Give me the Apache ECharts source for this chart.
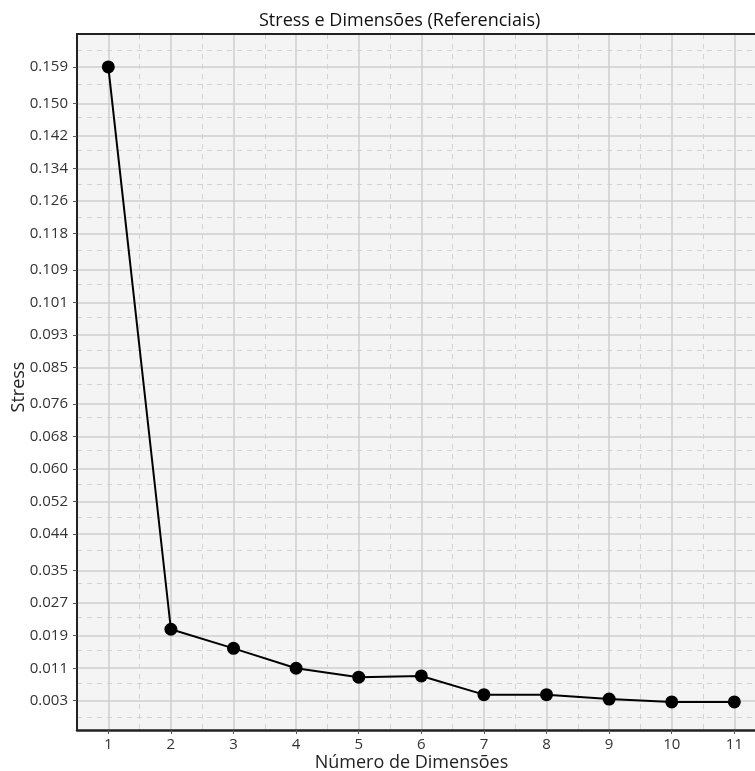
<!DOCTYPE html>
<html>
<head>
<meta charset="utf-8">
<script src="https://cdn.jsdelivr.net/npm/echarts@6/dist/echarts.min.js"></script>
<style>
html,body{margin:0;padding:0;background:#fff;}
#c{width:755px;height:771px;}
</style>
</head>
<body>
<div id="c"></div>
<script>
const dimensions = [1, 2, 3, 4, 5, 6, 7, 8, 9, 10, 11];
const stress = [0.159, 0.0206, 0.0159, 0.0110, 0.0088, 0.0091, 0.0045, 0.0045, 0.0034, 0.0027, 0.0027];
const yTicks = [0.003, 0.011, 0.019, 0.027, 0.035, 0.044, 0.052, 0.060, 0.068, 0.076, 0.085, 0.093, 0.101, 0.109, 0.118, 0.126, 0.134, 0.142, 0.150, 0.159];
const yMinor = [-0.001, 0.0072, 0.0154, 0.0236, 0.0318, 0.040, 0.0482, 0.0564, 0.0646, 0.0728, 0.081, 0.0892, 0.0974, 0.1056, 0.1138, 0.122, 0.1302, 0.1384, 0.1466, 0.1548, 0.163];
const xTicks = [1, 2, 3, 4, 5, 6, 7, 8, 9, 10, 11];
const xMinor = [1.5, 2.5, 3.5, 4.5, 5.5, 6.5, 7.5, 8.5, 9.5, 10.5];

const FONT = 'Open Sans';
const chart = echarts.init(document.getElementById('c'), null, {renderer: 'canvas'});
const yMin = -0.0042, yMax = 0.1671, xMin = 0.5, xMax = 11.33;

chart.setOption({
  animation: false,
  backgroundColor: '#ffffff',
  title: {
    text: 'Stress e Dimensões (Referenciais)',
    left: 254, top: 7,
    textStyle: {fontFamily: FONT, fontSize: 18, fontWeight: 'normal', color: '#111'}
  },
  grid: {
    left: 77, right: 0, top: 34, bottom: 41,
    show: true, backgroundColor: '#f4f4f4', borderWidth: 0,
    containLabel: false, outerBoundsMode: 'none'
  },
  xAxis: [{
    type: 'value', min: xMin, max: xMax,
    name: 'Número de Dimensões', nameLocation: 'middle', nameGap: 24, nameMoveOverlap: false,
    nameTextStyle: {fontFamily: FONT, fontSize: 18, color: '#222', padding: [0, 9, 0, 0]},
    axisLine: {show: true, onZero: false, lineStyle: {color: '#222', width: 2.5}},
    axisTick: {show: true, length: 4, customValues: xTicks, lineStyle: {color: '#555'}},
    axisLabel: {customValues: xTicks, fontFamily: FONT, fontSize: 15, color: '#333', margin: 7},
    splitLine: {show: true, lineStyle: {color: '#cfcfcf', width: 1.5}}
  }, {
    type: 'value', min: xMin, max: xMax, position: 'top',
    axisLine: {show: true, onZero: false, lineStyle: {color: '#222', width: 2}},
    axisLabel: {show: false},
    axisTick: {show: false, customValues: xMinor},
    splitLine: {show: true, lineStyle: {color: '#d2d2d2', width: 1, type: [5, 5]}}
  }],
  yAxis: [{
    type: 'value', min: yMin, max: yMax,
    name: 'Stress', nameLocation: 'middle', nameGap: 49, nameRotate: 90, nameMoveOverlap: false,
    nameTextStyle: {fontFamily: FONT, fontSize: 18, color: '#222', padding: [0, 10, 0, 0]},
    axisLine: {show: true, onZero: false, lineStyle: {color: '#222', width: 2}},
    axisTick: {show: true, length: 4, customValues: yTicks, lineStyle: {color: '#555'}},
    axisLabel: {customValues: yTicks, fontFamily: FONT, fontSize: 15, color: '#333', margin: 9,
      formatter: v => v.toFixed(3)},
    splitLine: {show: true, lineStyle: {color: '#cfcfcf', width: 1.5}}
  }, {
    type: 'value', min: yMin, max: yMax, position: 'left',
    axisLine: {show: false}, axisLabel: {show: false},
    axisTick: {show: false, customValues: yMinor},
    splitLine: {show: true, lineStyle: {color: '#d2d2d2', width: 1, type: [5, 5]}}
  }],
  series: [{
    type: 'line',
    xAxisIndex: 0, yAxisIndex: 0,
    data: dimensions.map((d, i) => [d, stress[i]]),
    symbol: 'circle', symbolSize: 13,
    lineStyle: {color: '#000', width: 2},
    itemStyle: {color: '#000'},
    z: 10
  }]
});
</script>
</body>
</html>
